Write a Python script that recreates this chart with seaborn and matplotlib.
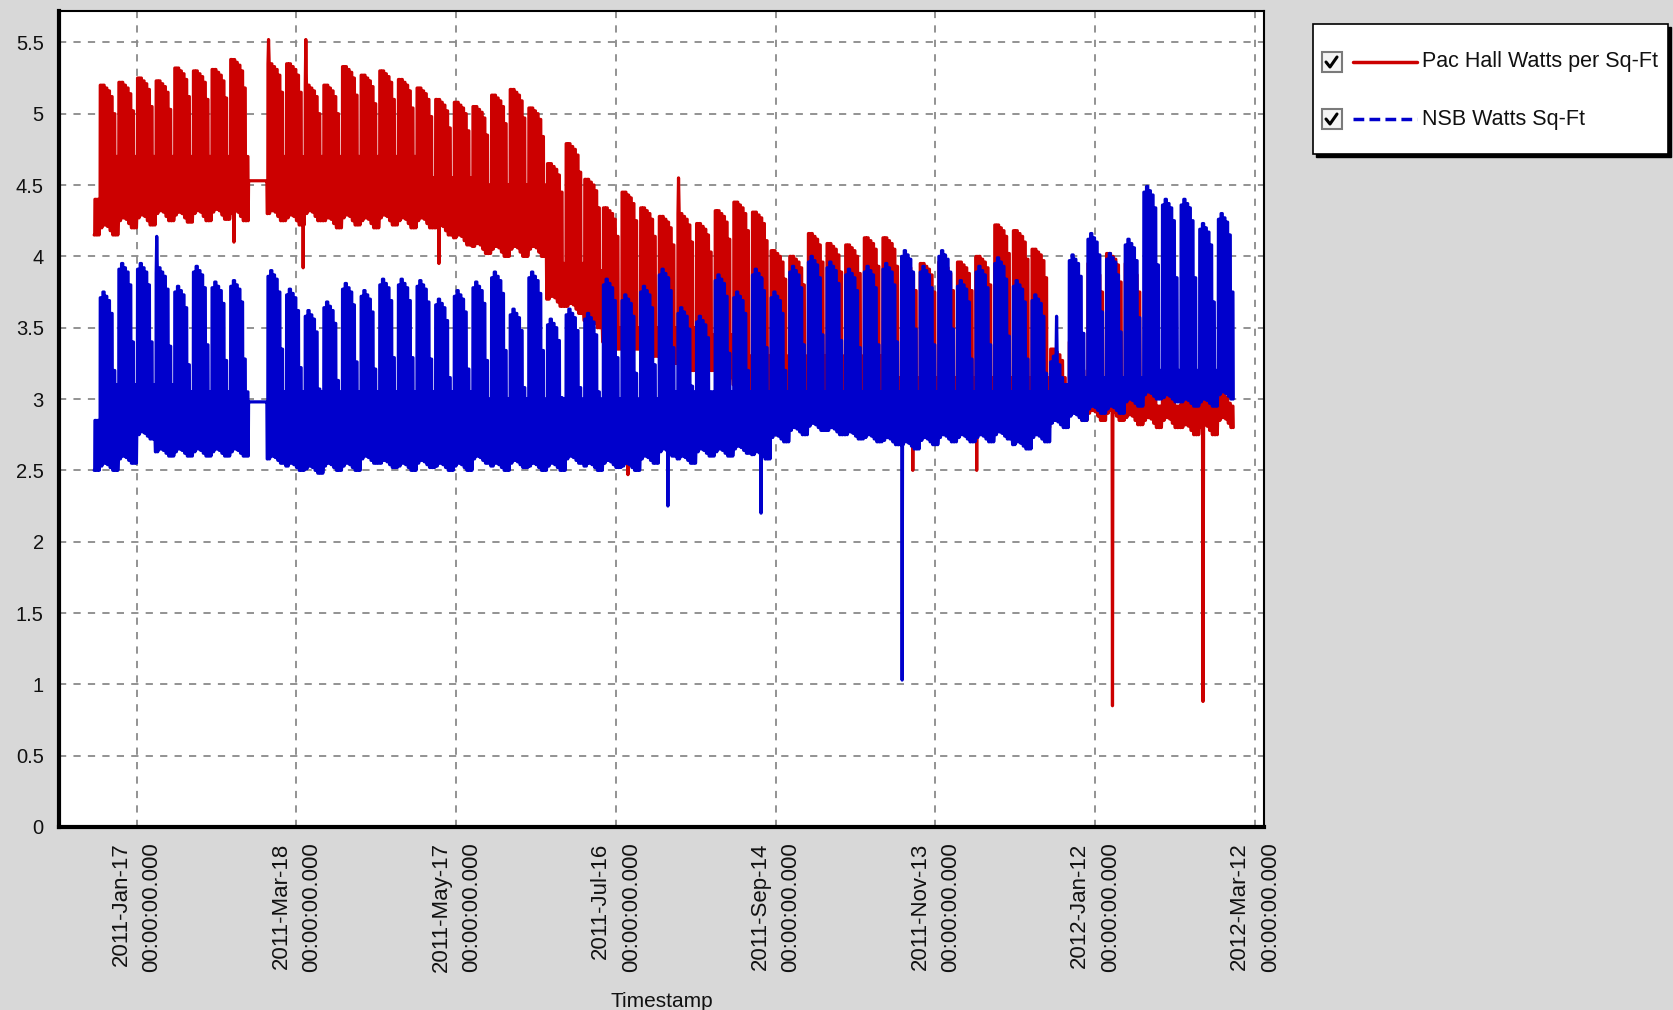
import numpy as np
import pandas as pd
import matplotlib
matplotlib.use("Agg")
import matplotlib.pyplot as plt
import matplotlib.dates as mdates
from matplotlib.ticker import FixedLocator
from matplotlib.lines import Line2D
from matplotlib.patches import Rectangle
import seaborn as sns

# ---------------- data ----------------
first_day = "2011-01-01"
last_day = "2012-03-03"
week0_monday = "2011-01-03"
flat_weeks = [8]          # week with missing data, drawn as a flat line

# levels of the opening weekend (before week 0): [daytime, night]
pac_first_days = [4.40, 4.15]
nsb_first_days = [2.85, 2.50]

# weekly levels, one value per week starting Monday 2011-01-03
pac_hi = [5.20, 5.22, 5.25, 5.23, 5.32, 5.30, 5.31, 5.38, 4.53, 5.35,
          5.35, 5.20, 5.20, 5.33, 5.27, 5.30, 5.24, 5.18, 5.10, 5.08,
          5.05, 5.13, 5.17, 5.04, 4.65, 4.79, 4.54, 4.34, 4.45, 4.34,
          4.28, 4.30, 4.23, 4.32, 4.38, 4.31, 4.04, 4.00, 4.16, 4.09,
          4.08, 4.13, 4.13, 3.96, 3.95, 3.96, 3.96, 4.00, 4.22, 4.18,
          4.05, 3.35, 3.40, 3.95, 4.02, 3.95, 3.12, 3.10, 3.08, 3.02,
          3.05]
pac_lo = [4.15, 4.20, 4.22, 4.25, 4.24, 4.25, 4.26, 4.25, 4.53, 4.25,
          4.22, 4.25, 4.20, 4.22, 4.20, 4.22, 4.20, 4.20, 4.15, 4.08,
          4.02, 4.00, 4.00, 4.00, 3.65, 3.60, 3.50, 3.35, 3.35, 3.30,
          3.25, 3.20, 3.20, 3.15, 3.05, 3.00, 3.00, 3.00, 2.95, 2.95,
          2.95, 2.90, 2.90, 2.90, 2.85, 2.85, 2.85, 2.85, 2.82, 2.80,
          2.80, 2.85, 2.85, 2.85, 2.85, 2.82, 2.80, 2.80, 2.75, 2.75,
          2.80]
pac_we = [4.70, 4.70, 4.70, 4.70, 4.70, 4.70, 4.70, 4.70, 4.53, 4.70,
          4.70, 4.70, 4.70, 4.70, 4.70, 4.70, 4.70, 4.55, 4.55, 4.55,
          4.50, 4.50, 4.50, 4.50, 3.95, 3.95, 3.90, 3.50, 3.50, 3.50,
          3.50, 3.50, 3.45, 3.45, 3.30, 3.30, 3.30, 3.30, 3.30, 3.30,
          3.30, 3.30, 3.15, 3.15, 3.15, 3.15, 3.15, 3.15, 3.15, 3.15,
          3.15, 3.00, 3.00, 3.00, 3.00, 3.00, 2.95, 2.95, 2.95, 2.95,
          2.95]
nsb_hi = [3.75, 3.95, 3.95, 3.92, 3.79, 3.93, 3.82, 3.83, 2.98, 3.90,
          3.77, 3.62, 3.68, 3.81, 3.76, 3.84, 3.84, 3.83, 3.70, 3.76,
          3.82, 3.89, 3.63, 3.89, 3.56, 3.63, 3.60, 3.84, 3.73, 3.79,
          3.91, 3.64, 3.58, 3.87, 3.75, 3.91, 3.75, 3.93, 4.00, 3.96,
          3.91, 3.93, 3.95, 4.04, 3.93, 4.04, 3.83, 3.93, 3.99, 3.83,
          3.73, 3.30, 4.01, 4.16, 4.02, 4.12, 4.49, 4.40, 4.40, 4.23,
          4.30]
nsb_lo = [2.50, 2.55, 2.72, 2.60, 2.60, 2.60, 2.60, 2.60, 2.98, 2.55,
          2.50, 2.48, 2.50, 2.50, 2.55, 2.52, 2.50, 2.52, 2.50, 2.50,
          2.55, 2.50, 2.52, 2.50, 2.50, 2.55, 2.50, 2.52, 2.50, 2.55,
          2.60, 2.55, 2.60, 2.60, 2.62, 2.58, 2.70, 2.75, 2.78, 2.75,
          2.72, 2.70, 2.68, 2.65, 2.68, 2.70, 2.70, 2.70, 2.72, 2.65,
          2.70, 2.80, 2.85, 2.90, 2.90, 2.95, 3.00, 2.98, 2.95, 2.95,
          3.00]
nsb_we = [3.10, 3.10, 3.10, 3.10, 3.05, 3.05, 3.05, 3.05, 2.98, 3.05,
          3.05, 3.05, 3.05, 3.05, 3.05, 3.05, 3.05, 3.05, 3.05, 3.05,
          3.00, 3.00, 3.00, 3.00, 3.00, 3.00, 3.00, 3.00, 3.00, 3.00,
          3.05, 3.05, 3.05, 3.05, 3.05, 3.05, 3.05, 3.05, 3.05, 3.05,
          3.05, 3.05, 3.05, 3.05, 3.05, 3.05, 3.05, 3.05, 3.05, 3.05,
          3.05, 3.10, 3.15, 3.15, 3.15, 3.15, 3.20, 3.20, 3.20, 3.20,
          3.20]

# typical shape of a week: Mon..Sat daytime steps below the weekly peak
# (Sunday daytime uses the *_we level), Mon..Sun night lows
pac_peak_day_offset = [0.00, 0.00, -0.02, -0.04, -0.08, -0.20]
nsb_peak_day_offset = [-0.04, 0.00, -0.03, -0.06, -0.15, -0.55]
pac_low_day_offset = [0.05, 0.07, 0.07, 0.06, 0.03, 0.00, 0.00]
nsb_low_day_offset = [0.03, 0.05, 0.05, 0.04, 0.02, 0.00, 0.00]

# isolated excursions
pac_spike_dates = ["2011-02-22", "2011-03-07", "2011-03-20", "2011-03-21",
                   "2011-05-10", "2011-07-20", "2011-08-08", "2011-11-04",
                   "2011-11-28", "2012-01-18", "2012-02-21"]
pac_spike_vals = [4.10, 5.52, 3.92, 5.52, 3.95, 2.47, 4.55, 2.50, 2.50, 0.85, 0.88]
nsb_spike_dates = ["2011-01-24", "2011-08-04", "2011-09-08", "2011-10-31", "2011-12-28"]
nsb_spike_vals = [4.14, 2.25, 2.20, 1.03, 3.58]

y_ticks = [0, 0.5, 1, 1.5, 2, 2.5, 3, 3.5, 4, 4.5, 5, 5.5]
y_tick_labels = ["0", "0.5", "1", "1.5", "2", "2.5", "3", "3.5", "4", "4.5", "5", "5.5"]
x_tick_dates = ["2011-01-17", "2011-03-18", "2011-05-17", "2011-07-16",
                "2011-09-14", "2011-11-13", "2012-01-12", "2012-03-12"]
x_tick_labels = ["2011-Jan-17\n00:00:00.000", "2011-Mar-18\n00:00:00.000",
                 "2011-May-17\n00:00:00.000", "2011-Jul-16\n00:00:00.000",
                 "2011-Sep-14\n00:00:00.000", "2011-Nov-13\n00:00:00.000",
                 "2012-Jan-12\n00:00:00.000", "2012-Mar-12\n00:00:00.000"]
series_names = ["Pac Hall Watts per Sq-Ft", "NSB Watts Sq-Ft"]

# ---------------- styling ----------------
W, H = 1673, 1010
BG = "#d8d8d8"
RED = "#cc0000"
BLUE = "#0000cc"
profile_hours = [0, 5, 7, 18, 21]


def build_series(hi, lo, we, peak_off, low_off, first_days, sp_dates, sp_vals):
    days = pd.date_range(first_day, last_day, freq="D")
    t0 = pd.Timestamp(week0_monday)
    times, vals = [], []
    for d in days:
        wd = d.weekday()
        if d < t0:
            top, bot = first_days
        else:
            wk = min((d - t0).days // 7, len(hi) - 1)
            if wk in flat_weeks:
                top = bot = hi[wk]
            else:
                top = hi[wk] + peak_off[wd] if wd < 6 else we[wk]
                top = max(top, we[wk])
                bot = lo[wk] + low_off[wd]
        for h, v in zip(profile_hours, (bot, bot, top, top, bot)):
            times.append(d + pd.Timedelta(hours=h))
            vals.append(v)
    for sd, sv in zip(sp_dates, sp_vals):
        times.append(pd.Timestamp(sd) + pd.Timedelta(hours=12))
        vals.append(sv)
    df = pd.DataFrame({"time": times, "value": vals}).sort_values("time")
    return df.reset_index(drop=True)


pac = build_series(pac_hi, pac_lo, pac_we, pac_peak_day_offset, pac_low_day_offset,
                   pac_first_days, pac_spike_dates, pac_spike_vals)
nsb = build_series(nsb_hi, nsb_lo, nsb_we, nsb_peak_day_offset, nsb_low_day_offset,
                   nsb_first_days, nsb_spike_dates, nsb_spike_vals)

sns.set_style("white")
plt.rcParams["font.family"] = ["Liberation Sans", "DejaVu Sans"]
plt.rcParams["path.simplify"] = False

fig = plt.figure(figsize=(W / 100, H / 100), dpi=100, facecolor=BG)
ax_l, ax_r, ax_t, ax_b = 59, 1264, 11, 827
ax = fig.add_axes([ax_l / W, 1 - ax_b / H, (ax_r - ax_l) / W, (ax_b - ax_t) / H])
ax.set_facecolor("white")
ax.set_axisbelow(True)

sns.lineplot(data=pac, x="time", y="value", ax=ax, color=RED, lw=2.3,
             estimator=None, sort=False, legend=False)
sns.lineplot(data=nsb, x="time", y="value", ax=ax, color=BLUE, lw=2.3,
             estimator=None, sort=False, legend=False)

ax.set_ylim(0, 5.72)
ax.set_xlim(pd.Timestamp("2010-12-18 19:00"), pd.Timestamp("2012-03-15 10:00"))

xt = [mdates.date2num(pd.Timestamp(d)) for d in x_tick_dates]
ax.xaxis.set_major_locator(FixedLocator(xt))
ax.set_xticklabels(x_tick_labels, rotation=90, ha="center", va="top",
                   ma="right", linespacing=1.6, fontsize=16)
minor_x = [mdates.date2num(pd.Timestamp("2011-01-17") + pd.Timedelta(days=15 * k))
           for k in range(-2, 31)]
ax.xaxis.set_minor_locator(FixedLocator(minor_x))
ax.set_yticks(y_ticks)
ax.set_yticklabels(y_tick_labels, fontsize=14.5)
ax.yaxis.set_minor_locator(FixedLocator(list(np.arange(0, 5.72, 0.125))))

ax.tick_params(axis="both", which="major", direction="out", length=7, width=1,
               color="#808080", labelcolor="#111111")
ax.tick_params(axis="both", which="minor", direction="out", length=4, width=1,
               color="#808080")
ax.tick_params(axis="y", which="major", pad=4)
ax.tick_params(axis="x", which="major", pad=4)

ax.grid(True, which="major", linestyle=(0, (4, 4)), color="#8a8a8a", lw=1.3)
for side in ["left", "bottom"]:
    ax.spines[side].set_linewidth(3)
    ax.spines[side].set_color("black")
for side in ["top", "right"]:
    ax.spines[side].set_linewidth(1.5)
    ax.spines[side].set_color("black")
    ax.spines[side].set_visible(True)

ax.set_xlabel("Timestamp", fontsize=15, labelpad=14, color="#111111")
ax.set_ylabel("")


# ---------------- legend (drawn in figure pixel coordinates) ----------------
def fx(x):
    return x / W


def fy(y):
    return 1 - y / H


lx0, ly0, lx1, ly1 = 1313, 24, 1668, 154
fig.patches.append(Rectangle((fx(lx0 + 3), fy(ly1 + 3)), fx(lx1 - lx0), (ly1 - ly0) / H,
                             transform=fig.transFigure, facecolor="black",
                             edgecolor="black", zorder=1))
fig.patches.append(Rectangle((fx(lx0), fy(ly1)), fx(lx1 - lx0), (ly1 - ly0) / H,
                             transform=fig.transFigure, facecolor="white",
                             edgecolor="black", lw=1.2, zorder=2))

for i, (name, col, ls) in enumerate(zip(series_names, [RED, BLUE],
                                        ["-", (0, (3.1, 1.5))])):
    cy = 62 + 57 * i
    fig.patches.append(Rectangle((fx(1322), fy(cy + 10)), fx(20), 20 / H,
                                 transform=fig.transFigure, facecolor="#f4f4f4",
                                 edgecolor="#7a7a7a", lw=1.5, zorder=3))
    fig.lines.append(Line2D([fx(1326), fx(1330), fx(1337)],
                            [fy(cy), fy(cy + 5), fy(cy - 5)],
                            transform=fig.transFigure, color="black", lw=2.2,
                            zorder=4))
    fig.lines.append(Line2D([fx(1353), fx(1417)], [fy(cy), fy(cy)],
                            transform=fig.transFigure, color=col, lw=2.5,
                            linestyle=ls, zorder=4))
    fig.text(fx(1422), fy(cy), name, fontsize=15.5, color="#111111",
             ha="left", va="center", zorder=5)

fig.savefig("out.png", dpi=100, facecolor=BG)
